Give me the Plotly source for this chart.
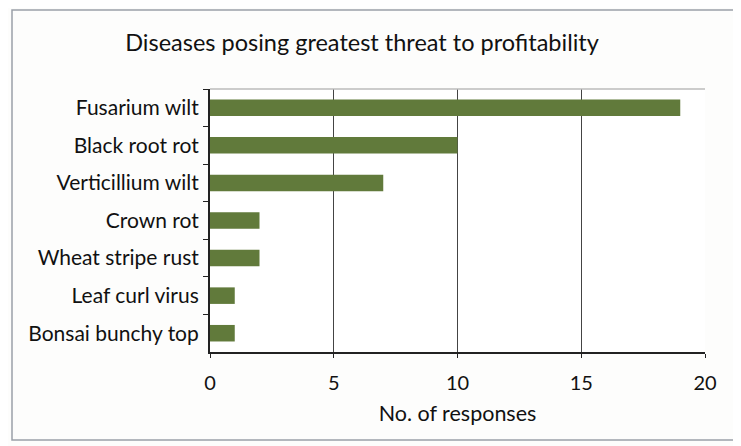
import plotly.graph_objects as go

categories = ["Fusarium wilt", "Black root rot", "Verticillium wilt", "Crown rot",
              "Wheat stripe rust", "Leaf curl virus", "Bonsai bunchy top"]
responses = [19, 10, 7, 2, 2, 1, 1]
x_ticks = [0, 5, 10, 15, 20]

FONT = "Lato, 'Open Sans', sans-serif"

fig = go.Figure(go.Bar(
    y=categories, x=responses, orientation="h",
    marker=dict(color="#617a3b", line=dict(width=0)),
    width=0.44,
))

# page body has an 8px default margin, so the figure is 733x438
fig.update_layout(
    width=733, height=438,
    margin=dict(l=202, r=36, t=81, b=94, autoexpand=False),
    paper_bgcolor="#fdfdfc", plot_bgcolor="#ffffff",
    font=dict(family=FONT, size=21, color="#111111"),
    title=dict(text="Diseases posing greatest threat to profitability",
               x=0.483, xanchor="center", y=0.92, yanchor="middle",
               font=dict(size=23.5, color="#111111", family=FONT)),
    showlegend=False,
)

fig.update_xaxes(
    range=[0, 20], tickvals=x_ticks, showgrid=True, gridcolor="#444444", gridwidth=1,
    showline=True, linecolor="#222222", linewidth=2, ticks="outside", ticklen=4,
    tickcolor="#222222", zeroline=False, automargin=False, ticklabelstandoff=8,
    title=dict(text="No. of responses", standoff=13, font=dict(size=21.5)),
    tickfont=dict(size=20),
)
fig.update_yaxes(
    autorange="reversed", showline=True, linecolor="#222222", linewidth=2,
    ticks="outside", tickson="boundaries", ticklen=5, tickcolor="#222222",
    showgrid=False, tickfont=dict(size=21), automargin=False, ticklabelstandoff=5,
)

# top border of plot area
fig.add_shape(type="line", xref="paper", yref="paper", x0=0, x1=1, y0=1, y1=1,
              line=dict(color="#bbbbbb", width=1.5))
# outer frame
fig.add_shape(type="rect", xref="paper", yref="paper",
              x0=(4-202)/495, x1=(727-202)/495, y0=1+79/263, y1=-88/263,
              line=dict(color="#9aa0a8", width=1.5))

fig.write_html("out.html")
